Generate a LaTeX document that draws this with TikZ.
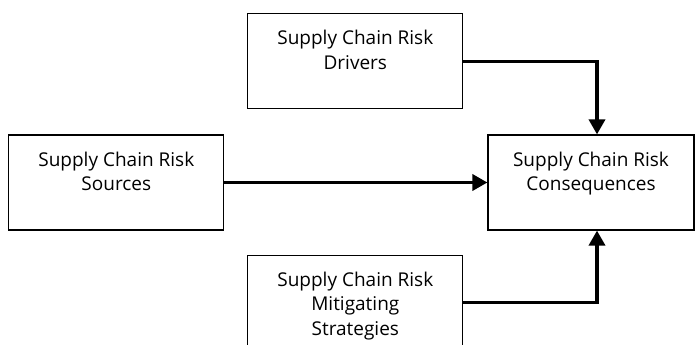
\documentclass[tikz,border=0pt]{standalone}
\usepackage{fontspec}
\setmainfont{Open Sans}
\usetikzlibrary{positioning,arrows.meta}

\begin{document}
\begin{tikzpicture}[
    node distance=24pt and 24pt,
    riskbox/.style={draw=black, line width=1.2pt, minimum width=215pt, minimum height=95pt, inner sep=0pt},
    boxtext/.style={align=center, font=\fontsize{19}{24.5}\selectfont, inner sep=0pt},
    arrow/.style={-{Triangle[length=15pt,width=16pt]}, line width=3.5pt}
]
\clip (0,0) rectangle (696pt,-345pt);

\node[riskbox, minimum width=206pt] (cons) at (591pt,-182.5pt) {};
\node[riskbox, left=263pt of cons] (sources) {};
\node[riskbox, above left=25pt and 24pt of cons] (drivers) {};
\node[riskbox, below left=24pt and 24pt of cons] (mitig) {};

\node[boxtext, below=17pt of cons.north] (cons-text) {Supply Chain Risk\\Consequences};
\node[boxtext, below=17pt of sources.north] (sources-text) {Supply Chain Risk\\Sources};
\node[boxtext, below=17pt of drivers.north] (drivers-text) {Supply Chain Risk\\Drivers};
\node[boxtext, below=17pt of mitig.north] (mitig-text) {Supply Chain Risk\\Mitigating\\Strategies};

\coordinate (cons-top) at ([xshift=6pt]cons.north);
\coordinate (cons-bot) at ([xshift=6pt]cons.south);

\draw[arrow] (sources) -- (cons);
\draw[arrow] (drivers.east) -| (cons-top);
\draw[arrow] (mitig.east) -| (cons-bot);
\end{tikzpicture}
\end{document}
